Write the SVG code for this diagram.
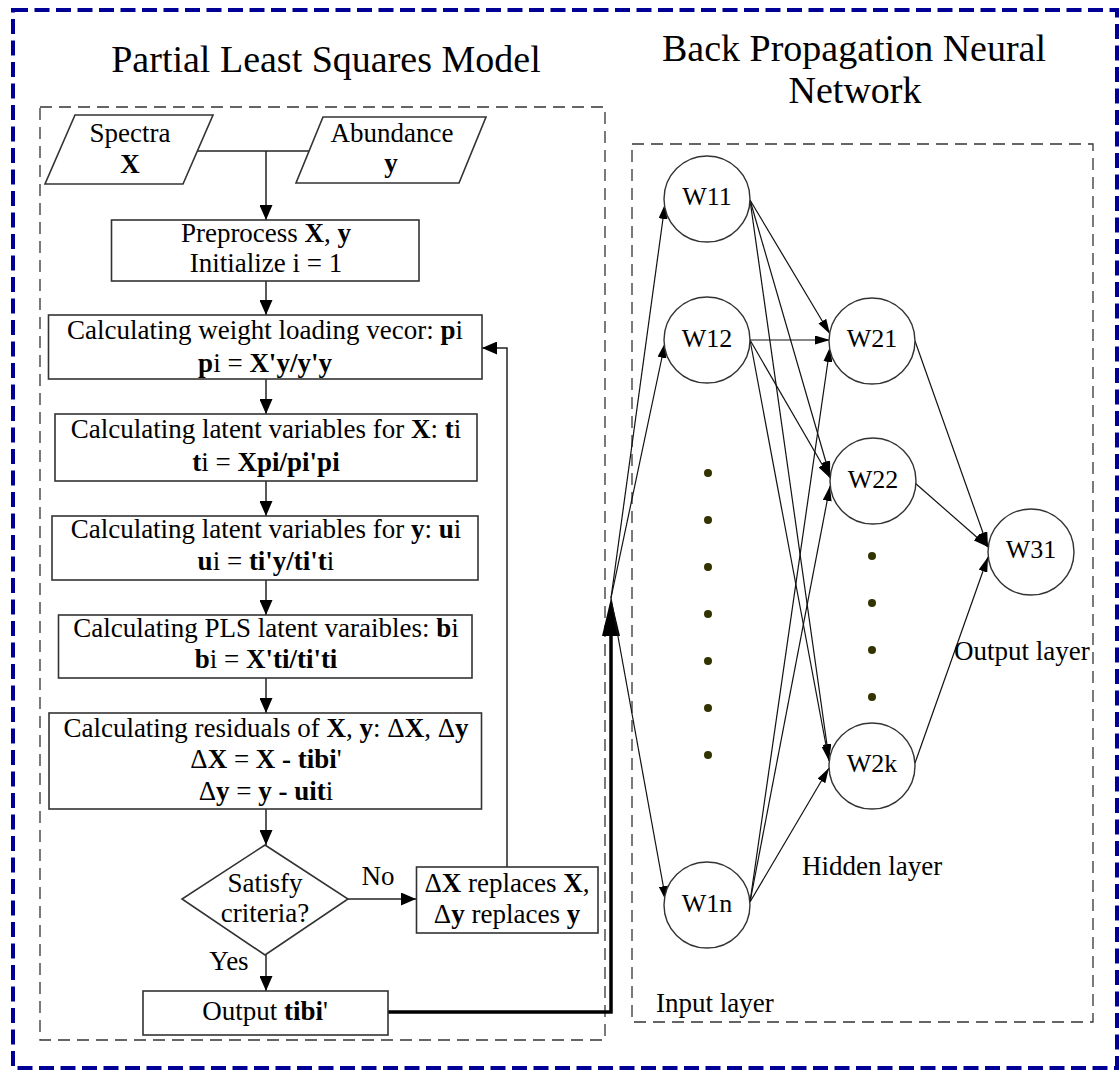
<svg xmlns="http://www.w3.org/2000/svg" width="1120" height="1071" viewBox="0 0 1120 1071">
<style>
text{font-family:"Liberation Serif","Times New Roman",serif;fill:#000}
.t{font-size:27px;text-anchor:middle}
.n{font-size:26px;text-anchor:middle}
.l{font-size:27px}
.ttl{font-size:38px;text-anchor:middle}
.b{font-weight:bold}
.box{fill:#fff;stroke:#333;stroke-width:1.6}
.node{fill:#fff;stroke:#333;stroke-width:1.4}
.dash{fill:none;stroke:#333;stroke-width:1.3;stroke-dasharray:12 7}
.fc{fill:none;stroke:#222;stroke-width:1.5}
.nn{fill:none;stroke:#111;stroke-width:1.2}
.dot{fill:#333300}
</style>
<defs>
<marker id="fa" markerUnits="userSpaceOnUse" markerWidth="15" markerHeight="13" refX="15" refY="6.5" orient="auto"><path d="M0,0 L15,6.5 L0,13 z" fill="#000"/></marker>
<marker id="na" markerUnits="userSpaceOnUse" markerWidth="15" markerHeight="9" refX="15" refY="4.5" orient="auto"><path d="M0,0 L15,4.5 L0,9 z" fill="#000"/></marker>
</defs>
<rect x="0" y="0" width="1120" height="1071" fill="#fff"/>
<rect x="13" y="10" width="1104" height="1058" fill="none" stroke="#000096" stroke-width="4" stroke-dasharray="15 6.5"/>

<text class="ttl" x="326" y="72">Partial Least Squares Model</text>
<text class="ttl" x="854" y="61">Back Propagation Neural</text>
<text class="ttl" x="855" y="103">Network</text>

<rect class="dash" x="40" y="107" width="565" height="933"/>
<rect class="dash" x="632" y="144" width="461" height="878"/>

<g id="connectors">
<path class="fc" d="M197,151 L309,151"/>
<path class="fc" d="M266,151 L266,220" marker-end="url(#fa)"/>
<path class="fc" d="M266,281 L266,315" marker-end="url(#fa)"/>
<path class="fc" d="M266,379 L266,414" marker-end="url(#fa)"/>
<path class="fc" d="M266,481 L266,516" marker-end="url(#fa)"/>
<path class="fc" d="M266,580 L266,615" marker-end="url(#fa)"/>
<path class="fc" d="M266,678 L266,713" marker-end="url(#fa)"/>
<path class="fc" d="M266,809 L266,845" marker-end="url(#fa)"/>
<path class="fc" d="M266,955 L266,991" marker-end="url(#fa)"/>
<path class="fc" d="M348,899 L416,899" marker-end="url(#fa)"/>
<path class="fc" d="M507,867 L507,348 L482,348" marker-end="url(#fa)"/>
<path d="M388,1012 L611,1012 L611,630" fill="none" stroke="#000" stroke-width="3.5"/>
<polygon points="611,598 602,636 620,636" fill="#000"/>
<path class="nn" d="M611,598 L665,204" marker-end="url(#na)"/>
<path class="nn" d="M611,598 L665,343" marker-end="url(#na)"/>
<path class="nn" d="M611,598 L666,901" marker-end="url(#na)"/>
<path class="nn" d="M750,200 L830,334" marker-end="url(#na)"/>
<path class="nn" d="M750,200 L830,476" marker-end="url(#na)"/>
<path class="nn" d="M750,200 L829,759" marker-end="url(#na)"/>
<path class="nn" d="M750,340 L830,340" marker-end="url(#na)"/>
<path class="nn" d="M750,340 L830,478" marker-end="url(#na)"/>
<path class="nn" d="M750,340 L829,761" marker-end="url(#na)"/>
<path class="nn" d="M750,902 L830,347" marker-end="url(#na)"/>
<path class="nn" d="M750,902 L830,486" marker-end="url(#na)"/>
<path class="nn" d="M750,902 L829,768" marker-end="url(#na)"/>
<path class="nn" d="M915,341 L988,547" marker-end="url(#na)"/>
<path class="nn" d="M915,483 L988,547" marker-end="url(#na)"/>
<path class="nn" d="M915,763 L988,557" marker-end="url(#na)"/>
</g>

<g id="spectra">
<polygon class="box" points="75,115 213,115 183,184 45,184"/>
<text class="t" x="130" y="142">Spectra</text>
<text class="t b" x="130" y="173">X</text>
</g>
<g id="abundance">
<polygon class="box" points="323,117 486,117 459,183 296,183"/>
<text class="t" x="392" y="142">Abundance</text>
<text class="t b" x="391" y="172">y</text>
</g>
<g id="preprocess">
<rect class="box" x="111.5" y="220" width="307.5" height="61"/>
<text class="t" x="266" y="242">Preprocess <tspan class="b">X</tspan>, <tspan class="b">y</tspan></text>
<text class="t" x="266" y="272">Initialize i = 1</text>
</g>
<g id="weight">
<rect class="box" x="48.5" y="315" width="433.5" height="64"/>
<text class="t" x="265" y="339">Calculating weight loading vecor: <tspan class="b">p</tspan>i</text>
<text class="t" x="265" y="372"><tspan class="b">p</tspan>i = <tspan class="b">X'y/y'y</tspan></text>
</g>
<g id="latentx">
<rect class="box" x="55" y="414" width="422" height="67"/>
<text class="t" x="266" y="438">Calculating latent variables for <tspan class="b">X</tspan>: <tspan class="b">t</tspan>i</text>
<text class="t" x="266" y="471"><tspan class="b">t</tspan>i = <tspan class="b">Xpi/pi'pi</tspan></text>
</g>
<g id="latenty">
<rect class="box" x="52" y="516" width="426" height="64"/>
<text class="t" x="266" y="538">Calculating latent variables for <tspan class="b">y</tspan>: <tspan class="b">u</tspan>i</text>
<text class="t" x="266" y="570"><tspan class="b">u</tspan>i = <tspan class="b">ti'y/ti't</tspan>i</text>
</g>
<g id="pls">
<rect class="box" x="58.5" y="615" width="413.5" height="63"/>
<text class="t" x="266" y="637">Calculating PLS latent varaibles: <tspan class="b">b</tspan>i</text>
<text class="t" x="266" y="668"><tspan class="b">b</tspan>i = <tspan class="b">X'ti/ti'ti</tspan></text>
</g>
<g id="residuals">
<rect class="box" x="49" y="713" width="432.5" height="96"/>
<text class="t" x="266" y="737">Calculating residuals of <tspan class="b">X</tspan>, <tspan class="b">y</tspan>: Δ<tspan class="b">X</tspan>, Δ<tspan class="b">y</tspan></text>
<text class="t" x="266" y="768">Δ<tspan class="b">X</tspan> = <tspan class="b">X - tibi</tspan>'</text>
<text class="t" x="266" y="800">Δ<tspan class="b">y</tspan> = <tspan class="b">y - uit</tspan>i</text>
</g>
<g id="decision">
<polygon class="box" points="265,845 348,899 265,955 182,899"/>
<text class="t" x="265" y="892">Satisfy</text>
<text class="t" x="265" y="922">criteria?</text>
</g>
<text class="t" x="378" y="885">No</text>
<text class="t" x="229" y="970">Yes</text>
<g id="replace">
<rect class="box" x="416.5" y="867" width="181.5" height="66"/>
<text class="t" x="507" y="892">Δ<tspan class="b">X</tspan> replaces <tspan class="b">X</tspan>,</text>
<text class="t" x="507" y="923">Δ<tspan class="b">y</tspan> replaces <tspan class="b">y</tspan></text>
</g>
<g id="output">
<rect class="box" x="143" y="991" width="245" height="44"/>
<text class="t" x="265" y="1020">Output <tspan class="b">tibi</tspan>'</text>
</g>

<g id="w11"><circle class="node" cx="707" cy="199" r="43"/><text class="n" x="707" y="205">W11</text></g>
<g id="w12"><circle class="node" cx="707" cy="340" r="43"/><text class="n" x="707" y="347">W12</text></g>
<g id="w1n"><circle class="node" cx="707" cy="905" r="43"/><text class="n" x="707" y="912">W1n</text></g>
<g id="w21"><circle class="node" cx="872" cy="341" r="43"/><text class="n" x="872" y="347">W21</text></g>
<g id="w22"><circle class="node" cx="873" cy="481" r="43"/><text class="n" x="873" y="488">W22</text></g>
<g id="w2k"><circle class="node" cx="872" cy="766" r="43"/><text class="n" x="872" y="772">W2k</text></g>
<g id="w31"><circle class="node" cx="1031" cy="552" r="43"/><text class="n" x="1031" y="558">W31</text></g>

<g id="dots">
<circle class="dot" cx="708" cy="473" r="4"/>
<circle class="dot" cx="708" cy="520" r="4"/>
<circle class="dot" cx="708" cy="567" r="4"/>
<circle class="dot" cx="708" cy="614" r="4"/>
<circle class="dot" cx="708" cy="661" r="4"/>
<circle class="dot" cx="708" cy="708" r="4"/>
<circle class="dot" cx="708" cy="755" r="4"/>
<circle class="dot" cx="872" cy="556" r="4"/>
<circle class="dot" cx="872" cy="603" r="4"/>
<circle class="dot" cx="872" cy="650" r="4"/>
<circle class="dot" cx="872" cy="697" r="4"/>
</g>

<text class="l" x="954" y="660">Output layer</text>
<text class="l" x="802" y="875">Hidden layer</text>
<text class="l" x="656" y="1012">Input layer</text>
</svg>
